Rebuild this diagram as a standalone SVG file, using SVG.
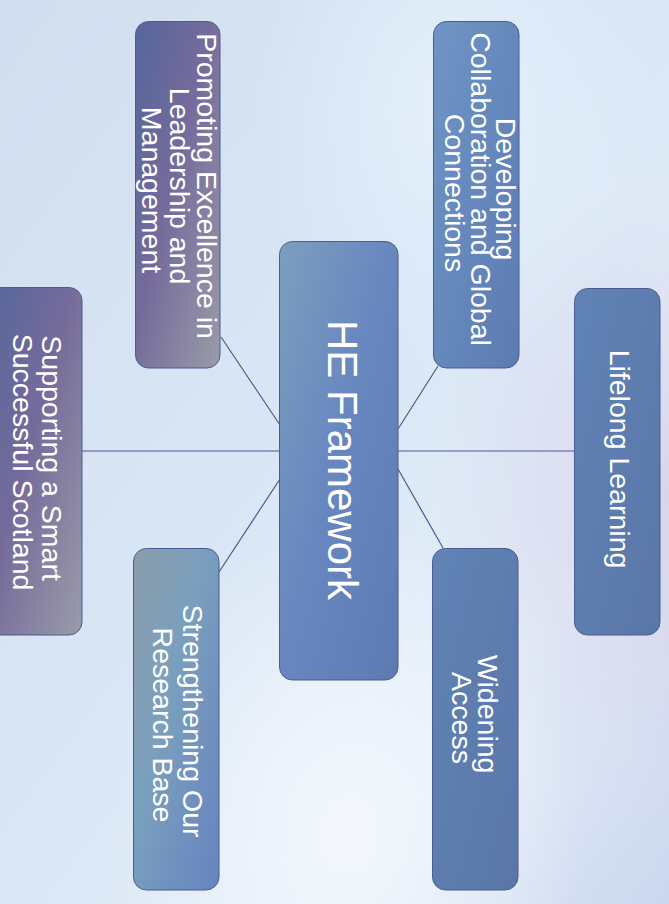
<svg xmlns="http://www.w3.org/2000/svg" width="669" height="904" viewBox="0 0 669 904">
  <defs>
    <linearGradient id="bg" x1="0" y1="0" x2="1" y2="1">
      <stop offset="0" stop-color="#d2deef"/>
      <stop offset="0.45" stop-color="#d9e6f5"/>
      <stop offset="0.75" stop-color="#e4eef9"/>
      <stop offset="1" stop-color="#ccd6ee"/>
    </linearGradient>
    <radialGradient id="glowA" cx="0.52" cy="0.92" r="0.35">
      <stop offset="0" stop-color="#f4f8fd" stop-opacity="0.95"/>
      <stop offset="1" stop-color="#f4f8fd" stop-opacity="0"/>
    </radialGradient>
    <radialGradient id="glowB" cx="0.68" cy="0.12" r="0.3">
      <stop offset="0" stop-color="#e6f1fc" stop-opacity="0.9"/>
      <stop offset="1" stop-color="#e6f1fc" stop-opacity="0"/>
    </radialGradient>
    <radialGradient id="lav" cx="1" cy="0.55" r="0.35">
      <stop offset="0" stop-color="#d6d3ea" stop-opacity="0.9"/>
      <stop offset="1" stop-color="#d6d3ea" stop-opacity="0"/>
    </radialGradient>

    <linearGradient id="gCenter" x1="0" y1="0" x2="1" y2="1">
      <stop offset="0" stop-color="#7b9fbd"/>
      <stop offset="0.45" stop-color="#6a88c0"/>
      <stop offset="1" stop-color="#5d7bb3"/>
    </linearGradient>
    <linearGradient id="gPurple" x1="0" y1="0" x2="1" y2="1">
      <stop offset="0" stop-color="#55669b"/>
      <stop offset="0.45" stop-color="#756b9b"/>
      <stop offset="1" stop-color="#9a9ba9"/>
    </linearGradient>
    <linearGradient id="gTeal" x1="0" y1="0" x2="1" y2="1">
      <stop offset="0" stop-color="#8b9dab"/>
      <stop offset="0.4" stop-color="#7ba0bd"/>
      <stop offset="1" stop-color="#6683c0"/>
    </linearGradient>
    <linearGradient id="gBlueA" x1="0" y1="0" x2="1" y2="1">
      <stop offset="0" stop-color="#6f95c5"/>
      <stop offset="1" stop-color="#5c7bb3"/>
    </linearGradient>
    <linearGradient id="gBlueB" x1="0" y1="0" x2="1" y2="1">
      <stop offset="0" stop-color="#6183b6"/>
      <stop offset="1" stop-color="#5a76a8"/>
    </linearGradient>

    <style>
      .box { stroke: #4b5d90; stroke-width: 1; }
      .lbl { fill: #ffffff; font-family: "Liberation Sans", Arial, sans-serif; font-size: 28.5px; text-anchor: middle; }
      .big { font-size: 42px; }
      .conn line { stroke: #4a5a8e; stroke-width: 1.2; }
    </style>
  </defs>

  <!-- background -->
  <rect x="0" y="0" width="669" height="904" fill="url(#bg)"/>
  <rect x="0" y="0" width="669" height="904" fill="url(#glowB)"/>
  <rect x="0" y="0" width="669" height="904" fill="url(#glowA)"/>
  <rect x="0" y="0" width="669" height="904" fill="url(#lav)"/>

  <!-- connectors -->
  <g id="connectors" class="conn">
    <line x1="221" y1="337" x2="280" y2="425"/>
    <line x1="82" y1="451" x2="280" y2="451"/>
    <line x1="219" y1="572" x2="280" y2="479"/>
    <line x1="438" y1="366" x2="398" y2="429"/>
    <line x1="398" y1="451" x2="575" y2="451"/>
    <line x1="398" y1="469" x2="443" y2="548"/>
  </g>

  <!-- hub -->
  <g id="he-framework">
    <rect class="box" x="279.5" y="241.5" width="118.5" height="438.5" rx="13" fill="url(#gCenter)"/>
    <text class="lbl big" transform="translate(328,460) rotate(90)">HE Framework</text>
  </g>

  <g id="promoting-excellence">
    <rect class="box" x="135.5" y="21.5" width="84.5" height="346.5" rx="13" fill="url(#gPurple)"/>
    <text class="lbl" transform="translate(197,190) rotate(90)">
      <tspan x="0" y="0">Promoting Excellence in</tspan>
      <tspan x="0" y="27.5">Leadership and</tspan>
      <tspan x="0" y="55">Management</tspan>
    </text>
  </g>

  <g id="developing-collaboration">
    <rect class="box" x="433.5" y="21.5" width="85.5" height="346.5" rx="13" fill="url(#gBlueA)"/>
    <text class="lbl" transform="translate(496,193) rotate(90)">
      <tspan x="0" y="0">Developing</tspan>
      <tspan x="0" y="25.5">Collaboration and Global</tspan>
      <tspan x="0" y="51">Connections</tspan>
    </text>
  </g>

  <g id="supporting-scotland">
    <rect class="box" x="-14" y="287.5" width="96" height="347.5" rx="13" fill="url(#gPurple)"/>
    <text class="lbl" transform="translate(42,462) rotate(90)">
      <tspan x="0" y="0">Supporting a Smart</tspan>
      <tspan x="0" y="29">Successful Scotland</tspan>
    </text>
  </g>

  <g id="lifelong-learning">
    <rect class="box" x="574.5" y="288.5" width="85.5" height="346.5" rx="13" fill="url(#gBlueB)"/>
    <text class="lbl" transform="translate(610,459) rotate(90)">Lifelong Learning</text>
  </g>

  <g id="strengthening-research">
    <rect class="box" x="133.5" y="548.5" width="85.5" height="341.5" rx="13" fill="url(#gTeal)"/>
    <text class="lbl" transform="translate(183,725) rotate(90)">
      <tspan x="0" y="0">Strengthening Our</tspan>
      <tspan x="0" y="30">Research Base</tspan>
    </text>
  </g>

  <g id="widening-access">
    <rect class="box" x="432.5" y="548.5" width="85.5" height="341.5" rx="13" fill="url(#gBlueB)"/>
    <text class="lbl" transform="translate(478,718) rotate(90)">
      <tspan x="0" y="0">Widening</tspan>
      <tspan x="0" y="26">Access</tspan>
    </text>
  </g>
</svg>
